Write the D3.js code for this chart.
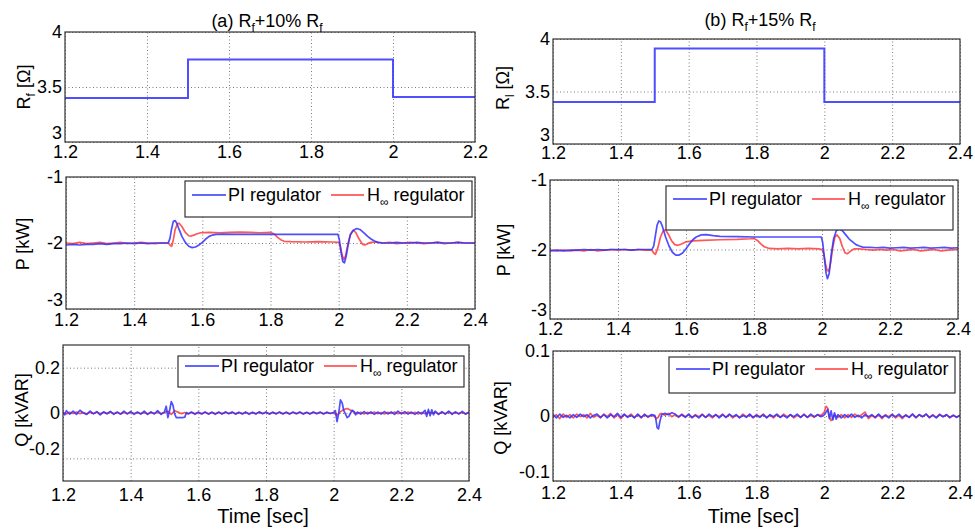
<!DOCTYPE html>
<html><head><meta charset="utf-8">
<script src="https://cdn.jsdelivr.net/npm/d3@7"></script>
<style>
body{margin:0;background:#fff;}
text{font-family:"Liberation Sans",Arial,sans-serif;fill:#000;}
</style></head>
<body><svg id="c" width="975" height="530"></svg>
<script>
// ---------------- data ----------------
const X_TICKS_A1 = [1.2,1.4,1.6,1.8,2,2.2];
const X_TICKS = [1.2,1.4,1.6,1.8,2,2.2,2.4];
const R_TICKS = [3,3.5,4];
const P_TICKS = [-3,-2,-1];
const QA_TICKS = [-0.2,0,0.2];
const QB_TICKS = [-0.1,0,0.1];

const R_A_T = [1.2,1.5,2.0,2.2];
const R_A_V = [3.4,3.75,3.41,3.41];
const R_B_T = [1.2,1.5,2.0,2.4];
const R_B_V = [3.4,3.91,3.4,3.4];

const PA_PI = [[1.20,-2.03],[1.22,-2.02],[1.24,-2.03],[1.26,-2.02],[1.28,-2.02],[1.30,-2.01],[1.32,-2.02],[1.34,-2.01],[1.36,-2.01],[1.38,-2.00],[1.40,-2.01],[1.42,-2.00],[1.44,-2.01],[1.46,-2.00],[1.48,-2.00],[1.50,-2.00],
[1.505,-1.93],[1.51,-1.78],[1.515,-1.67],[1.52,-1.66],[1.525,-1.70],[1.53,-1.77],[1.54,-1.90],[1.55,-1.99],[1.56,-2.05],[1.57,-2.07],[1.58,-2.06],[1.59,-2.03],[1.60,-1.99],[1.61,-1.94],[1.62,-1.90],[1.63,-1.88],[1.64,-1.87],[1.66,-1.865],[1.70,-1.87],[1.75,-1.87],[1.80,-1.87],[1.85,-1.87],[1.90,-1.87],[1.95,-1.87],[1.998,-1.87],
[2.002,-1.95],[2.007,-2.14],[2.012,-2.28],[2.017,-2.30],[2.022,-2.20],[2.028,-2.02],[2.034,-1.88],[2.042,-1.81],[2.053,-1.78],[2.064,-1.80],[2.075,-1.85],[2.085,-1.90],[2.095,-1.94],[2.105,-1.97],[2.115,-1.99],[2.13,-2.00],[2.15,-2.00],[2.17,-1.99],[2.19,-2.00],[2.21,-2.00],[2.23,-1.99],[2.25,-2.00],[2.27,-2.00],[2.29,-1.99],[2.31,-2.00],[2.33,-2.00],[2.35,-1.99],[2.37,-2.00],[2.40,-2.00]];
const PA_H = [[1.20,-2.00],[1.22,-2.01],[1.24,-1.99],[1.26,-2.01],[1.28,-2.00],[1.30,-1.99],[1.32,-2.01],[1.34,-2.00],[1.36,-1.99],[1.38,-2.01],[1.40,-2.00],[1.42,-1.99],[1.44,-2.00],[1.46,-2.01],[1.48,-2.00],[1.50,-2.00],[1.505,-2.03],[1.51,-2.05],[1.515,-1.95],[1.52,-1.80],[1.527,-1.71],[1.532,-1.70],[1.54,-1.75],[1.55,-1.84],[1.56,-1.89],[1.567,-1.895],[1.575,-1.88],[1.585,-1.86],[1.595,-1.845],[1.62,-1.84],[1.65,-1.845],[1.68,-1.84],[1.71,-1.835],[1.74,-1.84],[1.77,-1.845],[1.80,-1.84],[1.81,-1.86],[1.82,-1.91],[1.83,-1.95],[1.84,-1.975],[1.86,-1.98],[1.90,-1.985],[1.94,-1.98],[1.98,-1.985],[2.00,-1.99],[2.005,-2.05],[2.01,-2.18],[2.015,-2.25],[2.02,-2.20],[2.027,-2.02],[2.035,-1.86],[2.043,-1.81],[2.05,-1.84],[2.06,-1.94],[2.07,-2.02],[2.077,-2.03],[2.085,-2.01],[2.095,-1.99],[2.11,-1.985],[2.13,-2.00],[2.15,-1.99],[2.17,-2.01],[2.19,-2.00],[2.21,-1.99],[2.23,-2.00],[2.25,-2.01],[2.27,-2.00],[2.29,-1.99],[2.31,-2.01],[2.33,-2.00],[2.35,-1.99],[2.37,-2.00],[2.40,-2.00]];
const PB_PI = [[1.20,-2.02],[1.22,-2.01],[1.24,-2.02],[1.26,-2.01],[1.28,-2.01],[1.30,-2.00],[1.32,-2.01],[1.34,-2.00],[1.36,-2.01],[1.38,-2.00],[1.40,-2.00],[1.42,-2.00],[1.44,-2.01],[1.46,-2.00],[1.48,-2.00],[1.50,-2.00],[1.505,-1.95],[1.51,-1.80],[1.515,-1.65],[1.52,-1.59],[1.525,-1.60],[1.53,-1.66],[1.54,-1.82],[1.55,-1.95],[1.56,-2.04],[1.57,-2.08],[1.58,-2.08],[1.59,-2.05],[1.60,-1.99],[1.61,-1.92],[1.62,-1.86],[1.63,-1.82],[1.645,-1.79],[1.66,-1.785],[1.68,-1.80],[1.70,-1.81],[1.75,-1.815],[1.80,-1.82],[1.85,-1.82],[1.90,-1.82],[1.95,-1.82],[1.998,-1.82],[2.002,-1.90],[2.007,-2.12],[2.012,-2.34],[2.016,-2.42],[2.021,-2.35],[2.027,-2.08],[2.034,-1.85],[2.042,-1.73],[2.05,-1.705],[2.06,-1.73],[2.07,-1.79],[2.08,-1.85],[2.09,-1.89],[2.10,-1.93],[2.11,-1.95],[2.12,-1.965],[2.14,-1.97],[2.16,-1.975],[2.18,-1.97],[2.20,-1.98],[2.22,-1.975],[2.24,-1.97],[2.26,-1.98],[2.28,-1.975],[2.30,-1.97],[2.32,-1.98],[2.34,-1.975],[2.36,-1.97],[2.38,-1.98],[2.40,-1.975]];
const PB_H = [[1.20,-2.01],[1.22,-2.02],[1.24,-2.01],[1.26,-2.02],[1.28,-2.01],[1.30,-2.02],[1.32,-2.00],[1.34,-2.02],[1.36,-2.01],[1.38,-2.00],[1.40,-2.01],[1.42,-2.00],[1.44,-2.01],[1.46,-2.00],[1.48,-2.01],[1.50,-2.01],[1.505,-2.05],[1.51,-2.07],[1.517,-1.98],[1.525,-1.82],[1.533,-1.73],[1.54,-1.72],[1.548,-1.78],[1.557,-1.87],[1.567,-1.93],[1.577,-1.94],[1.587,-1.92],[1.60,-1.89],[1.62,-1.875],[1.65,-1.87],[1.70,-1.86],[1.75,-1.855],[1.79,-1.845],[1.80,-1.84],[1.81,-1.87],[1.82,-1.92],[1.83,-1.96],[1.845,-1.985],[1.87,-1.99],[1.90,-1.985],[1.93,-1.99],[1.96,-1.985],[1.99,-1.99],[2.00,-2.00],[2.005,-2.06],[2.01,-2.20],[2.015,-2.30],[2.02,-2.31],[2.025,-2.20],[2.032,-1.96],[2.038,-1.82],[2.044,-1.79],[2.052,-1.84],[2.06,-1.96],[2.068,-2.05],[2.075,-2.06],[2.085,-2.02],[2.095,-1.99],[2.11,-1.99],[2.13,-2.00],[2.15,-2.01],[2.17,-2.00],[2.19,-2.01],[2.21,-2.00],[2.23,-2.02],[2.25,-2.01],[2.27,-2.00],[2.29,-2.02],[2.31,-2.01],[2.33,-2.00],[2.35,-2.02],[2.37,-2.01],[2.40,-2.00]];

const QA_PI = [[1.200,0.005],[1.205,-0.008],[1.21,0.01],[1.22,-0.005],[1.23,0.008],[1.24,-0.006],[1.25,0.012],[1.26,0.0],[1.27,-0.006],[1.28,0.008],[1.29,-0.004],[1.30,0.006],[1.31,-0.008],[1.32,0.005],[1.33,-0.003],[1.34,0.007],[1.35,-0.006],[1.36,0.004],[1.37,-0.005],[1.38,0.008],[1.39,-0.004],[1.40,0.006],[1.41,-0.006],[1.42,0.004],[1.43,-0.005],[1.44,0.008],[1.45,-0.006],[1.46,0.005],[1.47,-0.004],[1.48,0.01],[1.49,-0.006],[1.50,0.005],[1.505,0.03],[1.51,-0.02],[1.515,0.01],[1.52,0.05],[1.525,0.035],[1.53,-0.005],[1.535,-0.02],[1.545,-0.02],[1.555,-0.02],[1.56,-0.018],[1.565,0.002],[1.57,-0.004],[1.58,0.004],[1.59,-0.006],[1.60,0.003],[1.61,-0.004],[1.62,0.005],[1.63,-0.005],[1.64,0.003],[1.65,-0.006],[1.66,0.004],[1.67,-0.004],[1.68,0.005],[1.69,-0.003],[1.70,0.004],[1.71,-0.005],[1.72,0.003],[1.73,-0.004],[1.74,0.004],[1.75,-0.006],[1.76,0.003],[1.77,-0.004],[1.78,0.005],[1.79,-0.003],[1.80,0.004],[1.81,-0.005],[1.82,0.003],[1.83,-0.004],[1.84,0.005],[1.85,-0.004],[1.86,0.003],[1.87,-0.005],[1.88,0.004],[1.89,-0.003],[1.90,0.004],[1.91,-0.005],[1.92,0.003],[1.93,-0.004],[1.94,0.004],[1.95,-0.003],[1.96,0.004],[1.97,-0.004],[1.98,0.003],[1.99,-0.002],[2.00,0.002],[2.005,0.01],[2.01,-0.038],[2.015,0.0],[2.02,0.058],[2.025,0.045],[2.03,0.01],[2.035,-0.005],[2.04,-0.02],[2.045,-0.015],[2.05,0.0],[2.055,0.012],[2.06,0.006],[2.065,-0.008],[2.07,0.004],[2.08,-0.005],[2.09,0.006],[2.10,-0.004],[2.11,0.005],[2.12,-0.006],[2.13,0.004],[2.14,-0.005],[2.15,0.006],[2.16,-0.004],[2.17,0.005],[2.18,-0.006],[2.19,0.008],[2.20,-0.004],[2.21,0.006],[2.22,-0.005],[2.23,0.004],[2.24,-0.006],[2.25,0.005],[2.26,-0.004],[2.27,0.012],[2.275,-0.015],[2.28,0.016],[2.285,-0.012],[2.29,0.014],[2.295,-0.008],[2.30,0.008],[2.31,-0.006],[2.32,0.006],[2.33,-0.005],[2.34,0.008],[2.35,-0.006],[2.36,0.005],[2.37,-0.004],[2.38,0.007],[2.39,-0.005],[2.40,0.004]];
const QA_H = [[1.20,0.002],[1.21,-0.004],[1.22,0.003],[1.23,-0.002],[1.24,0.004],[1.25,-0.003],[1.26,0.002],[1.27,-0.004],[1.28,0.003],[1.29,-0.002],[1.30,0.004],[1.31,-0.003],[1.32,0.002],[1.33,-0.003],[1.34,0.004],[1.35,-0.002],[1.36,0.003],[1.37,-0.004],[1.38,0.002],[1.39,-0.003],[1.40,0.004],[1.41,-0.002],[1.42,0.003],[1.43,-0.003],[1.44,0.002],[1.45,-0.004],[1.46,0.003],[1.47,-0.002],[1.48,0.004],[1.49,-0.003],[1.50,0.002],[1.51,0.008],[1.52,-0.006],[1.53,0.01],[1.54,0.004],[1.55,-0.003],[1.56,0.002],[1.57,-0.003],[1.58,0.003],[1.59,-0.002],[1.60,0.003],[1.61,-0.003],[1.62,0.002],[1.63,-0.003],[1.64,0.003],[1.65,-0.002],[1.66,0.003],[1.67,-0.003],[1.68,0.002],[1.69,-0.002],[1.70,0.003],[1.71,-0.003],[1.72,0.002],[1.73,-0.003],[1.74,0.003],[1.75,-0.002],[1.76,0.002],[1.77,-0.003],[1.78,0.003],[1.79,-0.002],[1.80,0.002],[1.81,-0.003],[1.82,0.003],[1.83,-0.002],[1.84,0.002],[1.85,-0.003],[1.86,0.003],[1.87,-0.002],[1.88,0.002],[1.89,-0.003],[1.90,0.003],[1.91,-0.002],[1.92,0.002],[1.93,-0.003],[1.94,0.003],[1.95,-0.002],[1.96,0.002],[1.97,-0.003],[1.98,0.003],[1.99,-0.002],[2.00,0.002],[2.01,-0.01],[2.02,0.006],[2.03,0.015],[2.04,0.02],[2.05,0.012],[2.06,0.004],[2.07,-0.003],[2.08,0.003],[2.09,-0.004],[2.10,0.003],[2.11,-0.002],[2.12,0.004],[2.13,-0.003],[2.14,0.002],[2.15,-0.004],[2.16,0.003],[2.17,-0.002],[2.18,0.004],[2.19,-0.003],[2.20,0.002],[2.21,-0.003],[2.22,0.004],[2.23,-0.002],[2.24,0.003],[2.25,-0.004],[2.26,0.002],[2.27,-0.003],[2.28,0.004],[2.29,-0.002],[2.30,0.003],[2.31,-0.004],[2.32,0.002],[2.33,-0.003],[2.34,0.004],[2.35,-0.002],[2.36,0.003],[2.37,-0.003],[2.38,0.002],[2.39,-0.004],[2.40,0.002]];
const QB_PI = [[1.20,0.002],[1.21,-0.003],[1.22,0.003],[1.23,-0.002],[1.24,0.001],[1.25,-0.003],[1.26,0.002],[1.27,-0.002],[1.28,0.003],[1.29,-0.001],[1.30,0.002],[1.31,-0.003],[1.32,0.001],[1.33,0.003],[1.34,-0.002],[1.35,0.002],[1.36,-0.003],[1.37,0.002],[1.38,-0.001],[1.39,0.004],[1.40,-0.002],[1.41,0.003],[1.42,-0.002],[1.43,0.001],[1.44,-0.003],[1.45,0.003],[1.46,-0.002],[1.47,0.002],[1.48,-0.001],[1.49,0.002],[1.50,0.001],[1.503,-0.004],[1.507,-0.018],[1.511,-0.02],[1.515,-0.009],[1.52,0.002],[1.53,0.004],[1.54,0.002],[1.55,0.005],[1.56,0.003],[1.57,-0.001],[1.58,0.002],[1.59,-0.002],[1.60,0.003],[1.61,-0.002],[1.62,0.001],[1.63,-0.003],[1.64,0.002],[1.65,-0.002],[1.66,0.003],[1.67,-0.001],[1.68,0.002],[1.69,-0.003],[1.70,0.002],[1.71,-0.002],[1.72,0.003],[1.73,-0.001],[1.74,0.002],[1.75,-0.003],[1.76,0.001],[1.77,-0.002],[1.78,0.003],[1.79,-0.002],[1.80,0.001],[1.81,-0.002],[1.82,0.002],[1.83,-0.003],[1.84,0.002],[1.85,-0.001],[1.86,0.003],[1.87,-0.002],[1.88,0.001],[1.89,-0.003],[1.90,0.002],[1.91,-0.001],[1.92,0.003],[1.93,-0.002],[1.94,0.002],[1.95,-0.002],[1.96,0.003],[1.97,-0.001],[1.98,0.002],[1.99,-0.001],[2.00,0.002],[2.005,0.006],[2.01,0.01],[2.015,-0.004],[2.02,0.008],[2.025,-0.006],[2.03,0.005],[2.035,-0.005],[2.04,0.002],[2.05,-0.003],[2.06,0.002],[2.07,-0.002],[2.08,0.003],[2.09,-0.002],[2.10,0.001],[2.11,-0.003],[2.12,0.002],[2.13,-0.001],[2.14,0.002],[2.15,-0.002],[2.16,0.003],[2.17,-0.002],[2.18,0.001],[2.19,-0.003],[2.20,0.002],[2.21,-0.001],[2.22,0.003],[2.23,-0.002],[2.24,0.001],[2.25,-0.002],[2.26,0.003],[2.27,-0.002],[2.28,0.002],[2.29,-0.001],[2.30,0.003],[2.31,-0.002],[2.32,0.001],[2.33,-0.003],[2.34,0.002],[2.35,-0.001],[2.36,0.002],[2.37,-0.002],[2.38,0.001],[2.39,-0.002],[2.40,0.001]];
const QB_H = [[1.20,-0.001],[1.21,0.002],[1.22,-0.004],[1.23,0.003],[1.24,-0.002],[1.25,0.002],[1.26,-0.003],[1.27,0.003],[1.28,-0.001],[1.29,0.002],[1.30,-0.003],[1.31,0.004],[1.32,-0.002],[1.33,0.001],[1.34,-0.003],[1.35,0.003],[1.36,-0.001],[1.37,0.004],[1.38,-0.003],[1.39,0.002],[1.40,-0.004],[1.41,0.002],[1.42,-0.001],[1.43,0.003],[1.44,-0.002],[1.45,0.002],[1.46,-0.003],[1.47,0.003],[1.48,-0.002],[1.49,0.001],[1.50,-0.001],[1.505,-0.004],[1.51,-0.002],[1.515,0.003],[1.52,0.004],[1.53,0.001],[1.54,0.004],[1.55,-0.001],[1.56,0.002],[1.57,-0.002],[1.58,0.003],[1.59,-0.001],[1.60,0.002],[1.61,-0.003],[1.62,0.002],[1.63,-0.001],[1.64,0.003],[1.65,-0.002],[1.66,0.001],[1.67,-0.003],[1.68,0.002],[1.69,-0.001],[1.70,0.003],[1.71,-0.002],[1.72,0.002],[1.73,-0.003],[1.74,0.001],[1.75,-0.002],[1.76,0.003],[1.77,-0.001],[1.78,0.002],[1.79,-0.003],[1.80,0.002],[1.81,-0.001],[1.82,0.003],[1.83,-0.002],[1.84,0.001],[1.85,-0.003],[1.86,0.002],[1.87,-0.002],[1.88,0.003],[1.89,-0.001],[1.90,0.002],[1.91,-0.003],[1.92,0.001],[1.93,-0.002],[1.94,0.003],[1.95,-0.002],[1.96,0.001],[1.97,-0.002],[1.98,0.002],[1.99,0.001],[2.00,0.006],[2.005,0.015],[2.01,0.012],[2.015,-0.002],[2.02,-0.007],[2.025,-0.004],[2.03,0.002],[2.04,-0.002],[2.05,0.002],[2.06,-0.003],[2.07,0.002],[2.08,-0.002],[2.09,0.003],[2.10,-0.001],[2.11,0.002],[2.12,0.006],[2.13,-0.004],[2.14,0.001],[2.15,-0.003],[2.16,0.002],[2.17,-0.004],[2.18,0.002],[2.19,-0.001],[2.20,0.003],[2.21,-0.003],[2.22,0.001],[2.23,-0.004],[2.24,0.002],[2.25,-0.002],[2.26,0.003],[2.27,-0.003],[2.28,0.002],[2.29,-0.001],[2.30,0.003],[2.31,-0.003],[2.32,0.002],[2.33,-0.002],[2.34,0.003],[2.35,-0.001],[2.36,0.002],[2.37,-0.003],[2.38,0.001],[2.39,-0.002],[2.40,0.001]];

const LEGEND_LABELS = ["PI regulator","H∞ regulator"];

// ---------------- layout ----------------
const BLUE = "#3030ff", RED = "#ff3a3a";
const FS = 18;
const svg = d3.select("#c");

const panels = [
  {id:"a1", l:65, t:32, r:475, b:142, xd:[1.2,2.2], xt:X_TICKS_A1, yd:[3,4], yt:R_TICKS, xpad:3, ylab:["R","f"," [Ω]"], ylx:30, yly:87,
   step:{t:R_A_T, v:R_A_V}},
  {id:"b1", l:553, t:39, r:960, b:144, xd:[1.2,2.4], xt:X_TICKS, yd:[3,4], yt:R_TICKS, xpad:2.5, ylab:["R","l"," [Ω]"], ylx:509, yly:88,
   step:{t:R_B_T, v:R_B_V}},
  {id:"a2", l:66, t:177, r:475, b:309, xd:[1.2,2.4], xt:X_TICKS, yd:[-3,-1], yt:P_TICKS, xpad:4.5, ylab:["P [kW]"], ylx:29, yly:244,
   series:[PA_PI,PA_H], leg:{l:185,t:181,w:287,h:36,ly:14}},
  {id:"b2", l:550, t:180, r:958, b:319, xd:[1.2,2.4], xt:X_TICKS, yd:[-3,-1], yt:P_TICKS, xpad:3, ylab:["P [kW]"], ylx:510, yly:250,
   series:[PB_PI,PB_H], leg:{l:666,t:186,w:287,h:44,ly:13}},
  {id:"a3", l:63, t:345, r:469, b:481, xd:[1.2,2.4], xt:X_TICKS, yd:[-0.3,0.3], yt:QA_TICKS, xpad:7, ylab:["Q [kVAR]"], ylx:28, yly:410,
   series:[QA_PI,QA_H], leg:{l:178,t:356,w:286,h:31,ly:10}, xlabel:true},
  {id:"b3", l:553, t:351, r:960, b:481, xd:[1.2,2.4], xt:X_TICKS, yd:[-0.1,0.1], yt:QB_TICKS, xpad:5, ylab:["Q [kVAR]"], ylx:507, yly:418,
   series:[QB_PI,QB_H], leg:{l:669,t:357,w:286,h:36,ly:12}, xlabel:true}
];

panels.forEach(p=>{
  const x = d3.scaleLinear().domain(p.xd).range([p.l,p.r]);
  const y = d3.scaleLinear().domain(p.yd).range([p.b,p.t]);
  const g = svg.append("g");
  const W = p.r-p.l, H = p.b-p.t;
  g.append("clipPath").attr("id","clip-"+p.id).append("rect")
    .attr("x",p.l).attr("y",p.t).attr("width",W).attr("height",H);
  // grids
  g.append("g").attr("transform",`translate(0,${p.b})`)
    .call(d3.axisBottom(x).tickValues(p.xt).tickSize(-H).tickFormat(""))
    .call(s=>s.select(".domain").remove())
    .call(s=>s.selectAll("line").attr("stroke","#7a7a7a").attr("stroke-dasharray","1,2.5"));
  g.append("g").attr("transform",`translate(${p.l},0)`)
    .call(d3.axisLeft(y).tickValues(p.yt).tickSize(-W).tickFormat(""))
    .call(s=>s.select(".domain").remove())
    .call(s=>s.selectAll("line").attr("stroke","#7a7a7a").attr("stroke-dasharray","1,2.5"));
  // tick labels
  g.append("g").attr("transform",`translate(0,${p.b})`)
    .call(d3.axisBottom(x).tickValues(p.xt).tickSize(0).tickPadding(p.xpad).tickFormat(d=>String(d)))
    .call(s=>s.select(".domain").remove())
    .call(s=>s.selectAll("text").attr("font-size",FS).attr("font-family","Liberation Sans, Arial").attr("fill","#000"));
  g.append("g").attr("transform",`translate(${p.l},0)`)
    .call(d3.axisLeft(y).tickValues(p.yt).tickSize(0).tickPadding(3).tickFormat(d=>String(d)))
    .call(s=>s.select(".domain").remove())
    .call(s=>s.selectAll("text").attr("font-size",FS).attr("font-family","Liberation Sans, Arial").attr("fill","#000")
      .attr("dy",(d,i)=> i===0 ? "-0.2em" : "0.32em"));
  // data
  const plot = g.append("g").attr("clip-path",`url(#clip-${p.id})`);
  if (p.step){
    const pts = p.step.t.map((t,i)=>[t,p.step.v[i]]);
    plot.append("path").datum(pts)
      .attr("d",d3.line().x(d=>x(d[0])).y(d=>y(d[1])).curve(d3.curveStepAfter))
      .attr("fill","none").attr("stroke",BLUE).attr("stroke-width",2).attr("stroke-opacity",0.85);
  }
  if (p.series){
    const ln = d3.line().x(d=>x(d[0])).y(d=>y(d[1]));
    [[p.series[1],RED],[p.series[0],BLUE]].forEach(([s,c])=>{
      plot.append("path").datum(s).attr("d",ln).attr("fill","none")
        .attr("stroke",c).attr("stroke-width",1.7).attr("stroke-opacity",0.85).attr("stroke-linejoin","round");
    });
  }
  // frame
  g.append("rect").attr("x",p.l).attr("y",p.t).attr("width",W).attr("height",H)
    .attr("fill","none").attr("stroke","#333").attr("stroke-width",1.2);
  // y label
  const yl = g.append("text").attr("transform",`translate(${p.ylx},${p.yly}) rotate(-90)`)
    .attr("text-anchor","middle").attr("font-size",FS);
  if (p.ylab.length===3){
    yl.append("tspan").text(p.ylab[0]);
    yl.append("tspan").attr("font-size",12).attr("dy",5).text(p.ylab[1]);
    yl.append("tspan").attr("dy",-5).text(p.ylab[2]);
  } else yl.text(p.ylab[0]);
  // legend
  if (p.leg){
    const L = p.leg;
    const lg = g.append("g");
    lg.append("rect").attr("x",L.l).attr("y",L.t).attr("width",L.w).attr("height",L.h)
      .attr("fill","#fff").attr("stroke","#333").attr("stroke-width",1.2);
    const ly = L.t+L.ly;
    lg.append("line").attr("x1",L.l+7).attr("x2",L.l+41).attr("y1",ly).attr("y2",ly).attr("stroke",BLUE).attr("stroke-width",1.5);
    lg.append("text").attr("x",L.l+43).attr("y",ly+6).attr("font-size",FS).text(LEGEND_LABELS[0]);
    lg.append("line").attr("x1",L.l+146).attr("x2",L.l+179).attr("y1",ly).attr("y2",ly).attr("stroke",RED).attr("stroke-width",1.5);
    const t2 = lg.append("text").attr("x",L.l+182).attr("y",ly+6).attr("font-size",FS);
    t2.append("tspan").text(LEGEND_LABELS[1].slice(0,1));
    t2.append("tspan").attr("font-size",12).attr("dy",5).text(LEGEND_LABELS[1].slice(1,2));
    t2.append("tspan").attr("dy",-5).text(LEGEND_LABELS[1].slice(2));
  }
  if (p.xlabel){
    g.append("text").attr("x",(p.l+p.r)/2-3).attr("y",523).attr("text-anchor","middle")
      .attr("font-size",20).text("Time [sec]");
  }
});

// titles
function title(cx, by, lead, pct){
  const t = svg.append("text").attr("x",cx).attr("y",by).attr("text-anchor","middle").attr("font-size",18);
  t.append("tspan").text(lead+" R");
  t.append("tspan").attr("font-size",12).attr("dy",5).text("f");
  t.append("tspan").attr("dy",-5).text("+"+pct+" R");
  t.append("tspan").attr("font-size",12).attr("dy",5).text("f");
}
title(267, 27, "(a)", "10%");
title(760, 26, "(b)", "15%");
</script></body></html>
